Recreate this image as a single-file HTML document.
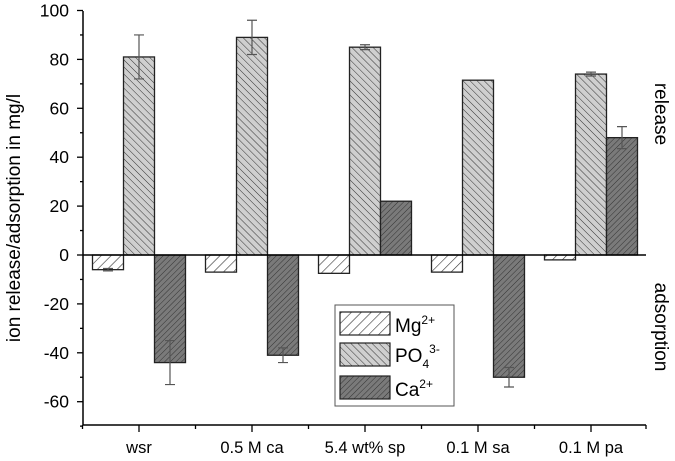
<!DOCTYPE html>
<html><head><meta charset="utf-8"><style>
body{margin:0;background:#fff}
svg{display:block;font-family:"Liberation Sans",Arial,sans-serif}
</style></head><body>
<svg id="chart" width="675" height="461" viewBox="0 0 675 461">
<defs>
<pattern id="pMg" width="7" height="7" patternUnits="userSpaceOnUse" patternTransform="rotate(45)"><rect width="7" height="7" fill="#fff"/><line x1="0" y1="0" x2="0" y2="7" stroke="#333" stroke-width="1.2"/></pattern>
<pattern id="pPO" width="5" height="5" patternUnits="userSpaceOnUse" patternTransform="rotate(-45)"><rect width="5" height="5" fill="#cfcfcf"/><line x1="0" y1="0" x2="0" y2="5" stroke="#333" stroke-width="1"/></pattern>
<pattern id="pCa" width="4" height="4" patternUnits="userSpaceOnUse" patternTransform="rotate(45)"><rect width="4" height="4" fill="#7a7a7a"/><line x1="0" y1="0" x2="0" y2="4" stroke="#333" stroke-width="1"/></pattern>
</defs>
<g id="bars"></g>
<g id="axes"></g>
</svg>
<script>
const categories = ["wsr","0.5 M ca","5.4 wt% sp","0.1 M sa","0.1 M pa"];
const mgValues = [-6,-7,-7.5,-7,-2];
const poValues = [81,89,85,71.5,74];
const caValues = [-44,-41,22,-50,48];
const mgErr = [0.5,0,0,0,0];
const poErr = [9,7,1,0,0.8];
const caErr = [9,3,0,4,4.5];
const yTicks = [-60,-40,-20,0,20,40,60,80,100];

const NS="http://www.w3.org/2000/svg";
const svg=document.getElementById('chart');
const gb=document.getElementById('bars'), ga=document.getElementById('axes');
const x0=83, x1=646, yTop=11, yBot=425;
const y=v=>255-v*2.445;
const gx=i=>139+i*113;
function el(t,a,p){const e=document.createElementNS(NS,t);for(const k in a)e.setAttribute(k,a[k]);(p||svg).appendChild(e);return e;}
const series=[[mgValues,mgErr,'url(#pMg)',-31,'mg'],[poValues,poErr,'url(#pPO)',0,'po4'],[caValues,caErr,'url(#pCa)',31,'ca']];
categories.forEach((c,i)=>{
  series.forEach(s=>{
    const v=s[0][i], cx=gx(i)+s[3];
    const r=el('rect',{x:cx-15.5,y:Math.min(y(v),y(0)),width:31,height:Math.abs(y(v)-y(0)),fill:s[2],stroke:'#222','stroke-width':1.3},gb);
    
    
    const e=s[1][i];
    if(e>0){
      const l=el('path',{d:`M${cx},${y(v+e)}V${y(v-e)}M${cx-5},${y(v+e)}h10M${cx-5},${y(v-e)}h10`,stroke:'#555','stroke-width':1.2,fill:'none'},gb);
      
      
    }
  });
  const t=el('text',{x:gx(i),y:453,'font-size':16.5,'text-anchor':'middle'},ga);
  t.textContent=c;
  
  
  el('line',{x1:gx(i),x2:gx(i),y1:yBot,y2:yBot+7,stroke:'#000','stroke-width':1.3},ga);
  el('line',{x1:gx(i)-56.5,x2:gx(i)-56.5,y1:yBot,y2:yBot+4,stroke:'#000','stroke-width':1.3},ga);
});
el('line',{x1:x1,x2:x1,y1:yBot,y2:yBot+4,stroke:'#000','stroke-width':1.3},ga);
el('line',{x1:x0,x2:x1,y1:y(0),y2:y(0),stroke:'#000','stroke-width':1.5},ga);
el('line',{x1:x0,x2:x0,y1:yTop,y2:yBot,stroke:'#000','stroke-width':1.5},ga);
el('line',{x1:x0,x2:x1,y1:yBot,y2:yBot,stroke:'#000','stroke-width':1.5},ga);
yTicks.forEach(v=>{
  el('line',{x1:x0-6,x2:x0,y1:y(v),y2:y(v),stroke:'#000','stroke-width':1.3},ga);
  el('line',{x1:x0-3,x2:x0,y1:y(v-10),y2:y(v-10),stroke:'#000','stroke-width':1.3},ga);
  const t=el('text',{x:x0-14,y:y(v)+6,'font-size':17.5,'text-anchor':'end'},ga);
  t.textContent=v;
  
  
});
</script>
<svg width="675" height="461" style="position:absolute;left:0;top:0">
<text transform="translate(20,218) rotate(-90)" font-size="19" text-anchor="middle">ion release/adsorption in mg/l</text>
<text transform="translate(655,114) rotate(90)" font-size="19" text-anchor="middle">release</text>
<text transform="translate(655,327) rotate(90)" font-size="19" text-anchor="middle">adsorption</text>
<g>
<rect x="335" y="305" width="119" height="101" fill="#fff" stroke="#555" stroke-width="1"/>
<rect x="340" y="312" width="50" height="23" fill="url(#pMg)" stroke="#222" stroke-width="1.2"/>
<rect x="340" y="343" width="50" height="23" fill="url(#pPO)" stroke="#222" stroke-width="1.2"/>
<rect x="340" y="376" width="50" height="23" fill="url(#pCa)" stroke="#222" stroke-width="1.2"/>
<text x="395" y="332" font-size="19">Mg<tspan font-size="12" dy="-8">2+</tspan></text>
<text x="395" y="362" font-size="19">PO<tspan font-size="12" dy="6">4</tspan><tspan font-size="12" dy="-15">3-</tspan></text>
<text x="395" y="396" font-size="19">Ca<tspan font-size="12" dy="-8">2+</tspan></text>
</g>
</svg>
</body></html>
